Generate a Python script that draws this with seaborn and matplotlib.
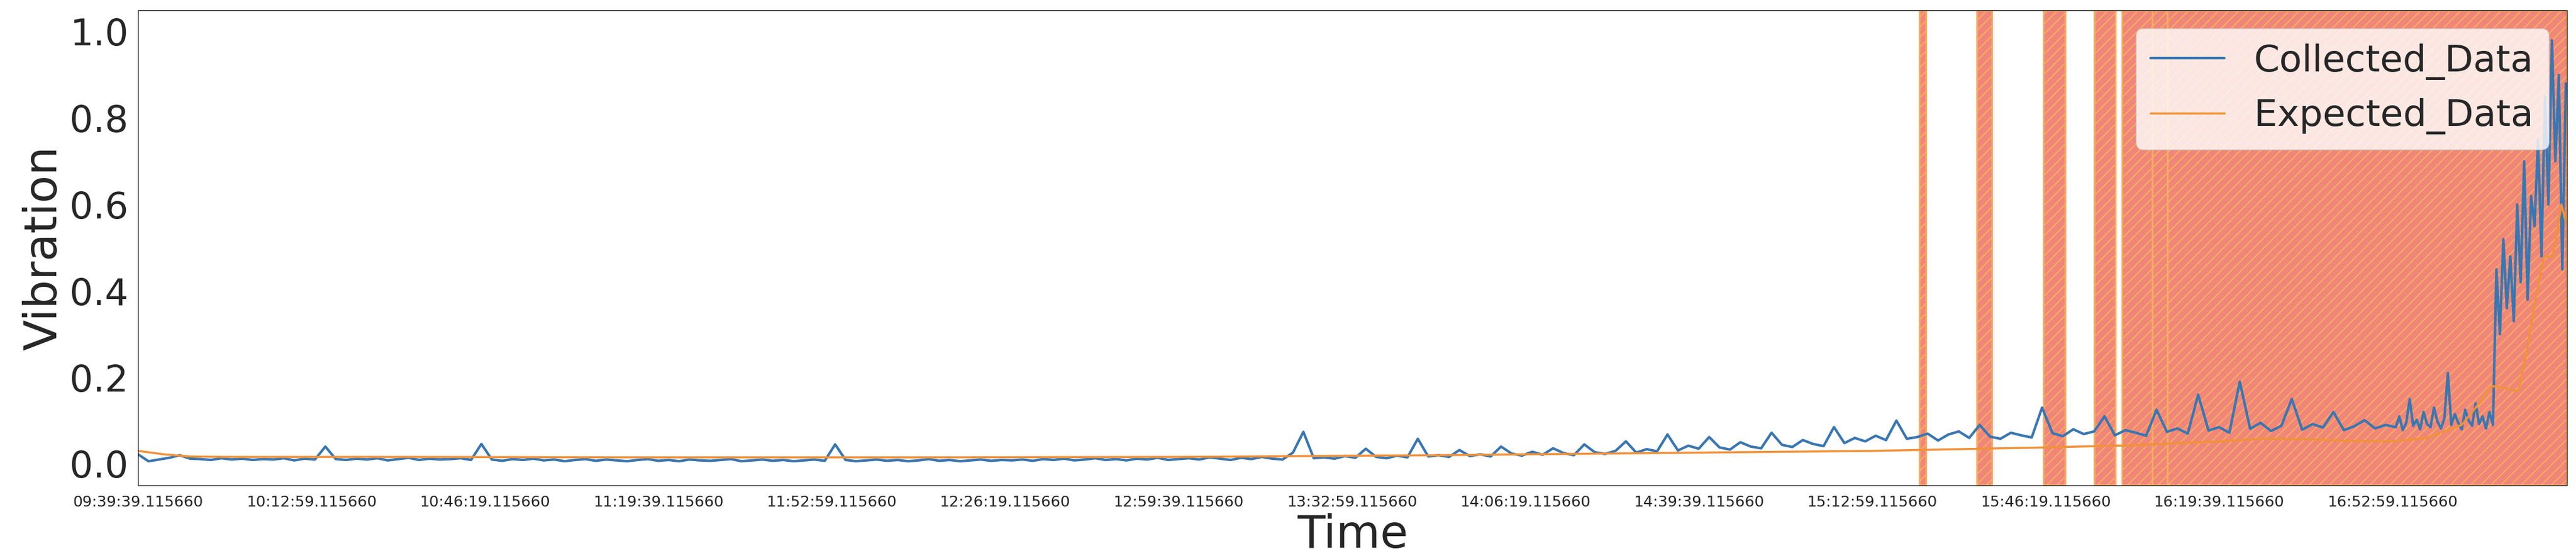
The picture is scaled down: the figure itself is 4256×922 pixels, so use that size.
import matplotlib
matplotlib.use("Agg")
import matplotlib.pyplot as plt
import matplotlib.dates as mdates
import seaborn as sns
import pandas as pd
import numpy as np

# Data
start = pd.Timestamp("2021-01-01 09:39:39.115660")

collected_p1 = [
    0.022, 0.006, 0.010, 0.014, 0.020, 0.012, 0.011, 0.009, 0.013, 0.010,
    0.012, 0.009, 0.011, 0.010, 0.013, 0.008, 0.012, 0.010, 0.040, 0.011,
    0.009, 0.012, 0.010, 0.013, 0.008, 0.011, 0.014, 0.009, 0.012, 0.010,
    0.011, 0.013, 0.009, 0.046, 0.010, 0.007, 0.011, 0.009, 0.012, 0.008,
    0.010, 0.006, 0.009, 0.011, 0.007, 0.010, 0.008, 0.006, 0.009, 0.011,
    0.007, 0.009, 0.006, 0.010, 0.008, 0.007, 0.009, 0.011, 0.006, 0.008,
    0.010, 0.007, 0.009, 0.006, 0.008, 0.010, 0.007, 0.045, 0.009, 0.006,
    0.008, 0.010, 0.007, 0.009, 0.006, 0.008, 0.011, 0.007, 0.009, 0.006,
    0.008, 0.010, 0.007, 0.009,
    0.008, 0.010, 0.007, 0.011, 0.009, 0.012, 0.008, 0.010, 0.013, 0.009,
    0.011, 0.008, 0.012, 0.010, 0.014, 0.009,
    0.011, 0.013, 0.010, 0.015, 0.012, 0.009, 0.014, 0.011, 0.016, 0.012,
    0.010, 0.026, 0.074, 0.013, 0.015, 0.012,
    0.018, 0.014, 0.035, 0.016, 0.013, 0.019, 0.015, 0.058, 0.017, 0.020,
    0.016, 0.032, 0.018, 0.022, 0.017, 0.040,
    0.024, 0.019, 0.028, 0.021, 0.036, 0.025, 0.020, 0.045, 0.027, 0.023,
    0.030, 0.052, 0.026, 0.034, 0.029, 0.068,
    0.031, 0.042, 0.035, 0.062, 0.038, 0.033, 0.050, 0.040, 0.036, 0.072,
    0.044, 0.039, 0.055, 0.046, 0.041, 0.085, 0.048, 0.060, 0.052,
    0.065, 0.055, 0.100, 0.058, 0.062, 0.070, 0.054, 0.068, 0.075, 0.060,
    0.090, 0.063, 0.058, 0.072, 0.066, 0.061,
    0.130, 0.071, 0.064, 0.080, 0.069, 0.075, 0.110, 0.066, 0.078, 0.072,
    0.065, 0.125, 0.074, 0.082, 0.070, 0.160,
    0.077, 0.085, 0.072, 0.190, 0.081, 0.095, 0.076, 0.088, 0.150, 0.079,
    0.092, 0.084, 0.120, 0.078, 0.087, 0.101, 0.082, 0.090,
]
collected_p2 = [
    0.085, 0.110, 0.078, 0.095, 0.150, 0.088, 0.102, 0.080, 0.120, 0.092,
    0.085, 0.130, 0.098, 0.082, 0.105, 0.210, 0.090, 0.115, 0.095, 0.080,
    0.125, 0.100, 0.088, 0.140, 0.092, 0.110, 0.082, 0.120, 0.090, 0.450,
    0.300, 0.520, 0.360, 0.480, 0.330, 0.600, 0.420, 0.700, 0.380, 0.620,
    0.550, 0.750, 0.480, 0.850, 0.600, 0.980, 0.700, 0.900, 0.450, 0.880,
]
# seconds after start
collected_sec = list(np.arange(len(collected_p1)) * 120) + list(26040 + np.arange(len(collected_p2)) * 40)

expected_sec = [0, 300, 600, 1000, 3000, 6000, 9000, 12000, 15000, 18000, 20000, 21000,
                22000, 23000, 24000, 24500, 25000, 25500, 26000, 26400, 26800, 27000,
                27150, 27300, 27450, 27550, 27650, 27750, 27850, 27950, 28000]
expected_val = [0.030, 0.022, 0.017, 0.016, 0.016, 0.015, 0.015, 0.016, 0.020, 0.026, 0.030, 0.034,
                0.038, 0.043, 0.052, 0.058, 0.057, 0.053, 0.052, 0.060, 0.090, 0.140,
                0.180, 0.175, 0.168, 0.260, 0.380, 0.480, 0.480, 0.600, 0.560]

# anomaly windows (seconds after start)
span_start = [20545, 21208, 21976, 22562, 22883, 23232, 23407]
span_end = [20622, 21382, 22227, 22806, 23232, 23407, 28014]

df_c = pd.DataFrame({"Time": start + pd.to_timedelta(collected_sec, unit="s"),
                     "Vibration": collected_p1 + collected_p2})
df_e = pd.DataFrame({"Time": start + pd.to_timedelta(expected_sec, unit="s"),
                     "Vibration": expected_val})

sns.set_style("white")
plt.rcParams["hatch.linewidth"] = 1.5
fig = plt.figure(figsize=(42.56, 9.22), dpi=100)
ax = fig.add_axes([0.0536, 0.13, 0.9429, 0.852])

for s, e in zip(span_start, span_end):
    ax.axvspan(start + pd.Timedelta(seconds=s), start + pd.Timedelta(seconds=e),
               facecolor="#f08679", edgecolor="#f5ad62", hatch="//", linewidth=2, zorder=0)

sns.lineplot(data=df_c, x="Time", y="Vibration", ax=ax, color="#3a76b0", linewidth=3, label="Collected_Data")
sns.lineplot(data=df_e, x="Time", y="Vibration", ax=ax, color="#f0923a", linewidth=2.5, label="Expected_Data")

ticks = [start + pd.Timedelta(seconds=2000 * k) for k in range(14)]
ax.set_xticks(ticks)
ax.xaxis.set_major_formatter(mdates.DateFormatter("%H:%M:%S.%f"))
ax.set_xlim(start, start + pd.Timedelta(seconds=28014))
ax.set_ylim(-0.05, 1.05)
ax.tick_params(axis="x", labelsize=18, length=8)
ax.tick_params(axis="y", labelsize=44, length=8)
ax.set_xlabel("Time", fontsize=54)
ax.set_ylabel("Vibration", fontsize=54)
for sp in ax.spines.values():
    sp.set_color("black")
ax.legend(loc="upper right", fontsize=44, framealpha=0.8)

fig.savefig("out.png", dpi=100)
